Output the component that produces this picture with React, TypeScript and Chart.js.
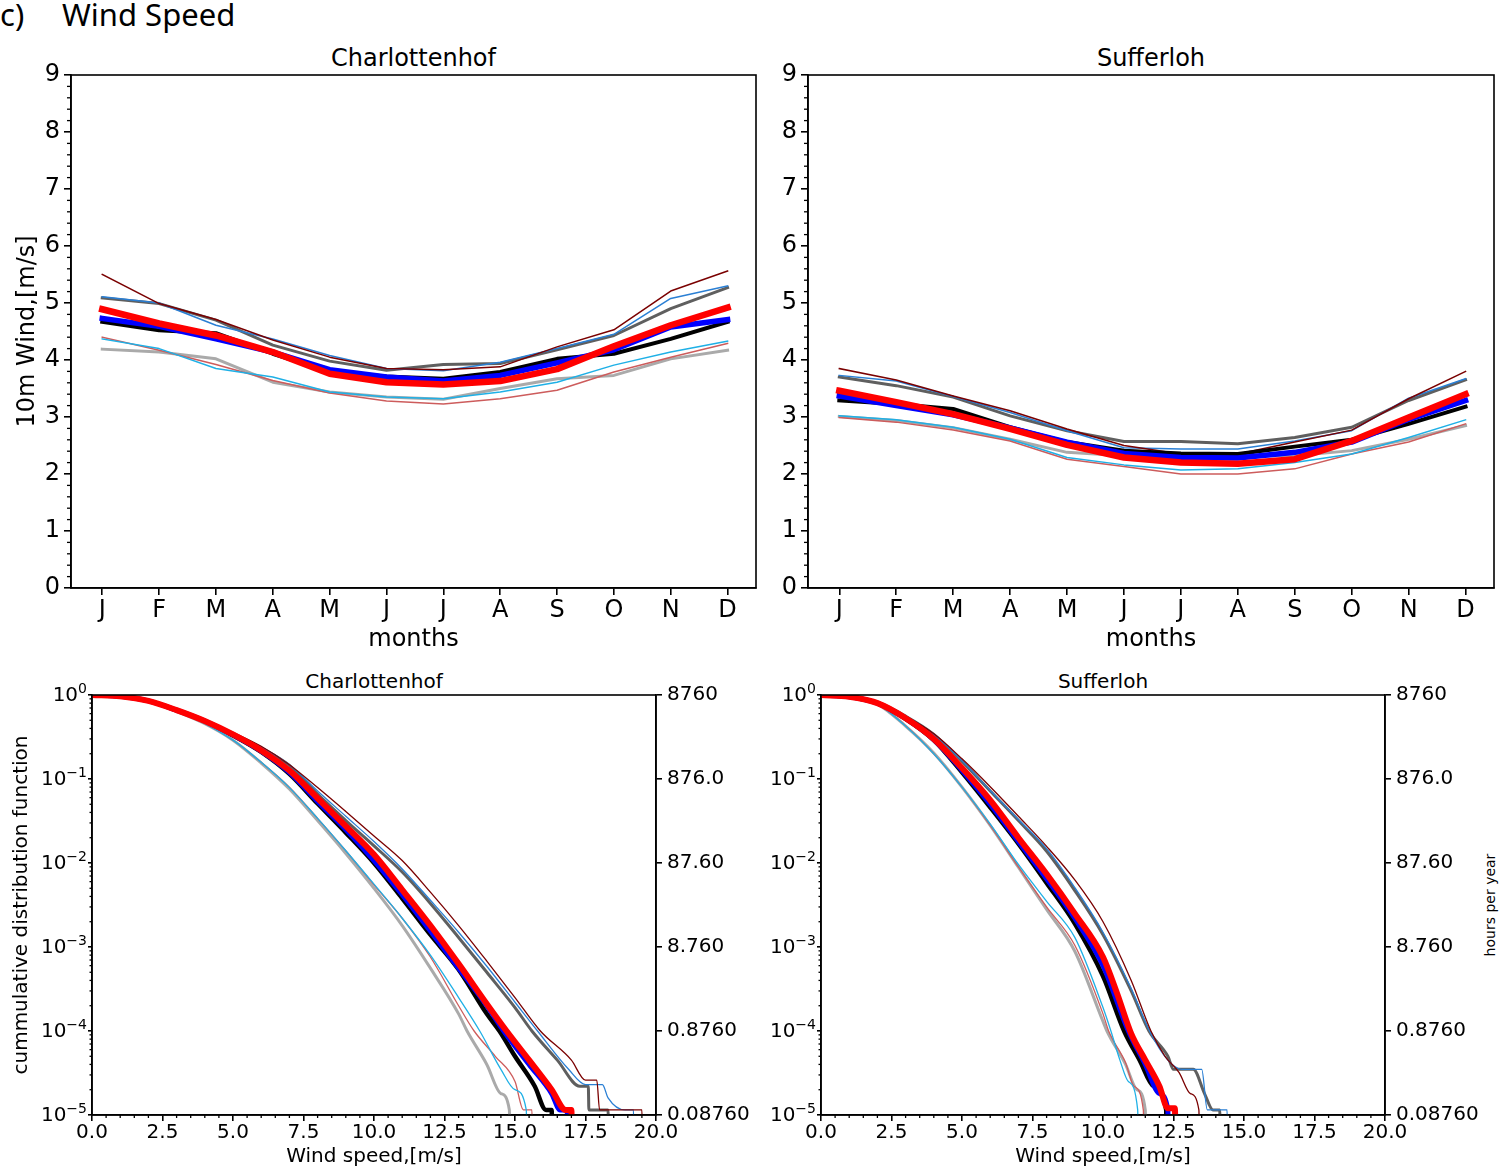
import React, { useEffect, useRef } from 'react';
import { Chart, registerables } from 'chart.js';

Chart.register(...registerables);

const FONT = "'DejaVu Sans', 'Liberation Sans', Arial, sans-serif";

// ---------- axis ticks ----------
const MONTHS = ['J', 'F', 'M', 'A', 'M', 'J', 'J', 'A', 'S', 'O', 'N', 'D'];
const WIND_TICKS = [0, 1, 2, 3, 4, 5, 6, 7, 8, 9];
const SPEED_TICKS = [0, 2.5, 5, 7.5, 10, 12.5, 15, 17.5, 20];
const CDF_TICKS = [1, 0.1, 0.01, 0.001, 0.0001, 0.00001];
const CDF_TICK_BASE = '10';
const CDF_TICK_EXP = ['0', '−1', '−2', '−3', '−4', '−5'];
const HOURS_TICKS = [8760, 876, 87.6, 8.76, 0.876, 0.0876];
const HOURS_TICK_LABELS = ['8760', '876.0', '87.60', '8.760', '0.8760', '0.08760'];

// ---------- monthly mean 10m wind, Charlottenhof ----------
const CH_M_RED = [4.89, 4.64, 4.43, 4.14, 3.76, 3.61, 3.57, 3.63, 3.84, 4.24, 4.61, 4.92];
const CH_M_BLUE = [4.73, 4.59, 4.37, 4.14, 3.83, 3.70, 3.63, 3.73, 3.95, 4.18, 4.58, 4.71];
const CH_M_BLACK = [4.67, 4.52, 4.47, 4.11, 3.79, 3.71, 3.67, 3.79, 4.02, 4.11, 4.37, 4.67];
const CH_M_DARKRED = [5.50, 4.99, 4.71, 4.35, 4.05, 3.85, 3.83, 3.88, 4.23, 4.53, 5.21, 5.56];
const CH_M_STEELBLUE = [5.11, 5.00, 4.61, 4.37, 4.08, 3.85, 3.81, 3.96, 4.20, 4.45, 5.08, 5.30];
const CH_M_SKYBLUE = [4.37, 4.20, 3.85, 3.70, 3.44, 3.35, 3.32, 3.44, 3.61, 3.91, 4.14, 4.33];
const CH_M_INDIANRED = [4.40, 4.17, 3.92, 3.64, 3.42, 3.28, 3.23, 3.32, 3.47, 3.79, 4.05, 4.29];
const CH_M_DIMGRAY = [5.09, 4.99, 4.70, 4.26, 3.98, 3.82, 3.92, 3.94, 4.18, 4.43, 4.90, 5.27];
const CH_M_DARKGRAY = [4.19, 4.14, 4.02, 3.61, 3.44, 3.35, 3.31, 3.50, 3.67, 3.73, 4.02, 4.17];

// ---------- monthly mean 10m wind, Sufferloh ----------
const SF_M_RED = [3.46, 3.26, 3.05, 2.79, 2.51, 2.29, 2.20, 2.18, 2.26, 2.58, 2.99, 3.40];
const SF_M_BLUE = [3.37, 3.20, 3.04, 2.81, 2.56, 2.36, 2.29, 2.28, 2.38, 2.56, 2.96, 3.29];
const SF_M_BLACK = [3.29, 3.23, 3.14, 2.82, 2.56, 2.41, 2.36, 2.35, 2.48, 2.60, 2.88, 3.18];
const SF_M_DARKRED = [3.85, 3.65, 3.37, 3.11, 2.79, 2.50, 2.35, 2.35, 2.56, 2.77, 3.32, 3.80];
const SF_M_STEELBLUE = [3.73, 3.63, 3.36, 3.08, 2.76, 2.46, 2.44, 2.44, 2.58, 2.76, 3.33, 3.67];
const SF_M_SKYBLUE = [3.02, 2.95, 2.82, 2.61, 2.29, 2.16, 2.07, 2.09, 2.20, 2.35, 2.64, 2.95];
const SF_M_INDIANRED = [2.99, 2.91, 2.77, 2.58, 2.26, 2.13, 2.00, 2.00, 2.09, 2.35, 2.56, 2.88];
const SF_M_DIMGRAY = [3.70, 3.55, 3.35, 3.02, 2.76, 2.57, 2.57, 2.53, 2.64, 2.82, 3.29, 3.65];
const SF_M_DARKGRAY = [3.01, 2.94, 2.81, 2.61, 2.38, 2.32, 2.29, 2.32, 2.32, 2.41, 2.61, 2.85];

// ---------- exceedance distribution, Charlottenhof (speed m/s, fraction) ----------
const CH_RED_X = [0, 1, 2, 3, 4, 5, 6, 7, 8, 9, 10, 11, 12, 13, 14, 14.7, 15.5, 16.3, 16.8, 17.0, 17.02];
const CH_RED_P = [1, 0.966, 0.851, 0.661, 0.49, 0.339, 0.219, 0.126, 0.059, 0.0275, 0.0126, 4.8e-3, 1.8e-3, 6.3e-4, 2.1e-4, 1.0e-4, 4.5e-5, 2.0e-5, 1.15e-5, 1.15e-5, 5e-6];
const CH_BLUE_X = [0, 1, 2, 3, 4, 5, 6, 7, 8, 9, 10, 11, 12, 13, 14, 14.6, 15.5, 16.3, 16.6, 16.85, 16.87];
const CH_BLUE_P = [1, 0.966, 0.851, 0.66, 0.49, 0.335, 0.215, 0.12, 0.054, 0.025, 0.0107, 4.2e-3, 1.55e-3, 5.6e-4, 2.0e-4, 1.0e-4, 4.0e-5, 1.8e-5, 1.15e-5, 1.15e-5, 5e-6];
const CH_BLACK_X = [0, 1, 2, 3, 4, 5, 6, 7, 8, 9, 10, 11, 12, 13, 14, 14.45, 15, 15.7, 16.1, 16.3, 16.32];
const CH_BLACK_P = [1, 0.966, 0.851, 0.66, 0.49, 0.33, 0.21, 0.115, 0.051, 0.023, 0.01, 3.8e-3, 1.4e-3, 5.4e-4, 1.6e-4, 1.0e-4, 5.0e-5, 2.2e-5, 1.15e-5, 1.15e-5, 5e-6];
const CH_DARKRED_X = [0, 1, 2, 3, 4, 5, 6, 7, 8, 9, 10, 11, 12, 13, 14, 15, 15.9, 17.0, 17.5, 17.9, 18.0, 19.5, 19.52];
const CH_DARKRED_P = [1, 0.97, 0.87, 0.68, 0.51, 0.36, 0.245, 0.148, 0.079, 0.041, 0.021, 0.0107, 4.5e-3, 1.8e-3, 6.8e-4, 2.5e-4, 1.0e-4, 4.5e-5, 2.6e-5, 2.6e-5, 1.15e-5, 1.15e-5, 5e-6];
const CH_STEELBLUE_X = [0, 1, 2, 3, 4, 5, 6, 7, 8, 9, 10, 11, 12, 13, 14, 15, 15.8, 16.9, 17.5, 18.1, 18.3, 18.9, 19.2, 19.22];
const CH_STEELBLUE_P = [1, 0.97, 0.865, 0.675, 0.505, 0.35, 0.24, 0.148, 0.072, 0.036, 0.018, 8.5e-3, 3.6e-3, 1.5e-3, 5.9e-4, 2.2e-4, 1.0e-4, 3.5e-5, 2.3e-5, 2.3e-5, 1.6e-5, 1.15e-5, 1.15e-5, 5e-6];
const CH_SKYBLUE_X = [0, 1, 2, 3, 4, 5, 6, 7, 8, 9, 10, 11, 12, 13, 13.75, 14.5, 15.0, 15.4, 15.42];
const CH_SKYBLUE_P = [1, 0.966, 0.84, 0.64, 0.457, 0.29, 0.158, 0.079, 0.034, 0.014, 5.6e-3, 2.2e-3, 8.0e-4, 2.5e-4, 1.0e-4, 3.5e-5, 2.0e-5, 1.15e-5, 5e-6];
const CH_INDIANRED_X = [0, 1, 2, 3, 4, 5, 6, 7, 8, 9, 10, 11, 12, 13, 13.55, 14.3, 15.0, 15.3, 15.6, 15.62];
const CH_INDIANRED_P = [1, 0.966, 0.84, 0.64, 0.46, 0.29, 0.158, 0.08, 0.034, 0.014, 5.5e-3, 2.2e-3, 7.6e-4, 2.0e-4, 1.0e-4, 5.0e-5, 2.5e-5, 1.15e-5, 1.15e-5, 5e-6];
const CH_DIMGRAY_X = [0, 1, 2, 3, 4, 5, 6, 7, 8, 9, 10, 11, 12, 13, 14, 15, 15.6, 16.5, 17.3, 17.6, 17.62, 18.3, 18.32];
const CH_DIMGRAY_P = [1, 0.97, 0.86, 0.67, 0.5, 0.345, 0.234, 0.145, 0.066, 0.032, 0.016, 7.8e-3, 3.3e-3, 1.3e-3, 5.0e-4, 1.9e-4, 1.0e-4, 4.5e-5, 2.2e-5, 2.2e-5, 1.15e-5, 1.15e-5, 5e-6];
const CH_DARKGRAY_X = [0, 1, 2, 3, 4, 5, 6, 7, 8, 9, 10, 11, 12, 13, 13.3, 14.0, 14.5, 14.8, 14.82];
const CH_DARKGRAY_P = [1, 0.966, 0.84, 0.635, 0.455, 0.29, 0.155, 0.076, 0.032, 0.013, 5.0e-3, 1.8e-3, 5.6e-4, 1.6e-4, 1.0e-4, 4.0e-5, 1.8e-5, 1.15e-5, 5e-6];

// ---------- exceedance distribution, Sufferloh ----------
const SF_RED_X = [0, 1, 2, 3, 4, 5, 6, 7, 8, 9, 10, 10.5, 11, 11.5, 12, 12.3, 12.55, 12.57];
const SF_RED_P = [1, 0.955, 0.8, 0.53, 0.3, 0.135, 0.056, 0.02, 7.4e-3, 2.5e-3, 7.6e-4, 2.8e-4, 9.3e-5, 4.5e-5, 2.2e-5, 1.2e-5, 1.2e-5, 5e-6];
const SF_BLUE_X = [0, 1, 2, 3, 4, 5, 6, 7, 8, 9, 10, 10.9, 11.5, 12.0, 12.3, 12.32];
const SF_BLUE_P = [1, 0.955, 0.8, 0.525, 0.295, 0.127, 0.05, 0.018, 6.5e-3, 2.2e-3, 6.0e-4, 1.0e-4, 4.0e-5, 1.8e-5, 1.15e-5, 5e-6];
const SF_BLACK_X = [0, 1, 2, 3, 4, 5, 6, 7, 8, 9, 10, 10.75, 11.3, 11.8, 12.24, 12.26];
const SF_BLACK_P = [1, 0.955, 0.8, 0.52, 0.29, 0.12, 0.046, 0.017, 5.8e-3, 1.9e-3, 4.5e-4, 1.0e-4, 4.5e-5, 2.2e-5, 1.15e-5, 5e-6];
const SF_DARKRED_X = [0, 1, 2, 3, 4, 5, 6, 7, 8, 9, 10, 11, 11.7, 12.2, 12.7, 13.1, 13.4, 13.42];
const SF_DARKRED_P = [1, 0.96, 0.82, 0.56, 0.345, 0.174, 0.081, 0.036, 0.0158, 6.3e-3, 2.0e-3, 4.0e-4, 1.0e-4, 5.0e-5, 3.2e-5, 1.8e-5, 1.15e-5, 5e-6];
const SF_STEELBLUE_X = [0, 1, 2, 3, 4, 5, 6, 7, 8, 9, 10, 11, 11.65, 12.3, 12.8, 13.5, 13.7, 14.4, 14.42];
const SF_STEELBLUE_P = [1, 0.96, 0.82, 0.56, 0.34, 0.165, 0.073, 0.033, 0.0148, 5.1e-3, 1.5e-3, 3.2e-4, 1.0e-4, 4.5e-5, 3.5e-5, 3.5e-5, 1.15e-5, 1.15e-5, 5e-6];
const SF_SKYBLUE_X = [0, 1, 2, 3, 4, 5, 6, 7, 8, 9, 10, 10.28, 10.6, 10.9, 11.23, 11.25];
const SF_SKYBLUE_P = [1, 0.95, 0.78, 0.427, 0.2, 0.08, 0.029, 9.6e-3, 3.5e-3, 1.3e-3, 1.9e-4, 1.0e-4, 4.5e-5, 2.5e-5, 1.15e-5, 5e-6];
const SF_INDIANRED_X = [0, 1, 2, 3, 4, 5, 6, 7, 8, 9, 10, 10.2, 10.8, 11.1, 11.43, 11.45];
const SF_INDIANRED_P = [1, 0.95, 0.78, 0.43, 0.2, 0.08, 0.028, 9.0e-3, 3.0e-3, 1.05e-3, 1.6e-4, 1.0e-4, 4.2e-5, 2.2e-5, 1.15e-5, 5e-6];
const SF_DIMGRAY_X = [0, 1, 2, 3, 4, 5, 6, 7, 8, 9, 10, 11, 11.63, 12.3, 12.5, 13.2, 13.6, 13.9, 14.14, 14.16];
const SF_DIMGRAY_P = [1, 0.96, 0.82, 0.56, 0.34, 0.162, 0.072, 0.032, 0.0138, 4.7e-3, 1.4e-3, 3.0e-4, 1.0e-4, 5.0e-5, 3.5e-5, 3.5e-5, 1.8e-5, 1.15e-5, 1.15e-5, 5e-6];
const SF_DARKGRAY_X = [0, 1, 2, 3, 4, 5, 6, 7, 8, 9, 10, 10.14, 10.8, 11.2, 11.5, 11.52];
const SF_DARKGRAY_P = [1, 0.95, 0.78, 0.427, 0.204, 0.08, 0.028, 8.9e-3, 2.8e-3, 8.9e-4, 1.3e-4, 1.0e-4, 4.0e-5, 2.0e-5, 1.15e-5, 5e-6];

// ---------- styles (drawing order: first = on top) ----------
const STYLE: any = {
  red: { color: '#ff0000', top: 6.5, bottom: 6 },
  blue: { color: '#0000ff', top: 5.5, bottom: 5 },
  black: { color: '#000000', top: 4, bottom: 4.5 },
  darkred: { color: '#7a0000', top: 1.5, bottom: 1.3 },
  steelblue: { color: '#2a7fd4', top: 1.5, bottom: 1.3 },
  skyblue: { color: '#1fb0e6', top: 1.5, bottom: 1.3 },
  indianred: { color: '#cd5c5c', top: 1.5, bottom: 1.3 },
  dimgray: { color: '#5f5f5f', top: 3, bottom: 3 },
  darkgray: { color: '#aaaaaa', top: 3, bottom: 3 },
};

const CH_MONTHLY = [
  ['red', CH_M_RED], ['blue', CH_M_BLUE], ['black', CH_M_BLACK], ['darkred', CH_M_DARKRED],
  ['steelblue', CH_M_STEELBLUE], ['skyblue', CH_M_SKYBLUE], ['indianred', CH_M_INDIANRED],
  ['dimgray', CH_M_DIMGRAY], ['darkgray', CH_M_DARKGRAY],
];
const SF_MONTHLY = [
  ['red', SF_M_RED], ['blue', SF_M_BLUE], ['black', SF_M_BLACK], ['darkred', SF_M_DARKRED],
  ['steelblue', SF_M_STEELBLUE], ['skyblue', SF_M_SKYBLUE], ['indianred', SF_M_INDIANRED],
  ['dimgray', SF_M_DIMGRAY], ['darkgray', SF_M_DARKGRAY],
];
const CH_CDF = [
  ['red', CH_RED_X, CH_RED_P], ['blue', CH_BLUE_X, CH_BLUE_P], ['black', CH_BLACK_X, CH_BLACK_P],
  ['darkred', CH_DARKRED_X, CH_DARKRED_P], ['steelblue', CH_STEELBLUE_X, CH_STEELBLUE_P],
  ['skyblue', CH_SKYBLUE_X, CH_SKYBLUE_P], ['indianred', CH_INDIANRED_X, CH_INDIANRED_P],
  ['dimgray', CH_DIMGRAY_X, CH_DIMGRAY_P], ['darkgray', CH_DARKGRAY_X, CH_DARKGRAY_P],
];
const SF_CDF = [
  ['red', SF_RED_X, SF_RED_P], ['blue', SF_BLUE_X, SF_BLUE_P], ['black', SF_BLACK_X, SF_BLACK_P],
  ['darkred', SF_DARKRED_X, SF_DARKRED_P], ['steelblue', SF_STEELBLUE_X, SF_STEELBLUE_P],
  ['skyblue', SF_SKYBLUE_X, SF_SKYBLUE_P], ['indianred', SF_INDIANRED_X, SF_INDIANRED_P],
  ['dimgray', SF_DIMGRAY_X, SF_DIMGRAY_P], ['darkgray', SF_DARKGRAY_X, SF_DARKGRAY_P],
];

// ---------- helpers ----------
function minorLinear(min: number, max: number, step: number, major: number) {
  const out: number[] = [];
  const n = Math.round((max - min) / step);
  for (let i = 1; i < n; i++) {
    const v = min + i * step;
    const r = v / major;
    if (Math.abs(r - Math.round(r)) > 1e-6) out.push(v);
  }
  return out;
}
function minorLog(e0: number, e1: number) {
  const out: number[] = [];
  for (let e = e0; e < e1; e++) for (let k = 2; k <= 9; k++) out.push(k * Math.pow(10, e));
  return out;
}
function labelFor(ticks: number[], labels: string[], v: number) {
  const i = ticks.findIndex((t) => Math.abs(t - v) / t < 1e-6);
  return i >= 0 ? labels[i] : '';
}

function framePlugin(minor: any[], powerLabels?: boolean) {
  return {
    id: 'frame',
    afterDraw(chart: any) {
      const { ctx, chartArea: a } = chart;
      ctx.save();
      ctx.strokeStyle = '#000';
      ctx.lineWidth = 1.3;
      minor.forEach((m) => {
        const s = chart.scales[m.id];
        m.values.forEach((v: number) => {
          const p = s.getPixelForValue(v);
          ctx.beginPath();
          if (m.side === 'left') {
            ctx.moveTo(a.left, p);
            ctx.lineTo(a.left - m.len, p);
          } else {
            ctx.moveTo(p, a.bottom);
            ctx.lineTo(p, a.bottom + m.len);
          }
          ctx.stroke();
        });
      });
      ctx.lineWidth = 1.6;
      ctx.strokeRect(a.left, a.top, a.right - a.left, a.bottom - a.top);
      if (powerLabels) {
        const s = chart.scales.y;
        ctx.fillStyle = '#000';
        ctx.textAlign = 'left';
        ctx.textBaseline = 'middle';
        CDF_TICKS.forEach((t, i) => {
          const y = s.getPixelForValue(t);
          const exp = CDF_TICK_EXP[i];
          ctx.font = `14px ${FONT}`;
          const we = ctx.measureText(exp).width;
          ctx.font = `20px ${FONT}`;
          const wb = ctx.measureText(CDF_TICK_BASE).width;
          const right = a.left - 5;
          ctx.fillText(CDF_TICK_BASE, right - we - wb, y + 1);
          ctx.font = `14px ${FONT}`;
          ctx.fillText(exp, right - we, y - 6);
        });
      }
      ctx.restore();
    },
  };
}

const grid = (len: number) => ({
  display: true,
  drawOnChartArea: false,
  drawTicks: true,
  tickLength: len,
  tickWidth: 1.6,
  tickColor: '#000',
  color: '#000',
  lineWidth: 1.6,
});
const border = { display: true, color: '#000', width: 1.6 };

function monthlyConfig(series: any[], o: any) {
  return {
    type: 'line',
    data: {
      datasets: series.map(([key, vals]: any) => ({
        data: vals.map((v: number, i: number) => ({ x: i, y: v })),
        borderColor: STYLE[key].color,
        borderWidth: STYLE[key].top,
        pointRadius: 0,
        fill: false,
        tension: 0,
        borderJoinStyle: 'round',
        borderCapStyle: 'square',
      })),
    },
    options: {
      animation: false,
      responsive: false,
      devicePixelRatio: 1,
      events: [],
      layout: { padding: { top: o.padTop, right: o.padRight, left: 0, bottom: 0 } },
      plugins: { legend: { display: false }, tooltip: { enabled: false }, title: { display: false } },
      scales: {
        x: {
          type: 'linear',
          min: -0.55,
          max: 11.5,
          afterBuildTicks: (s: any) => {
            s.ticks = MONTHS.map((_, i) => ({ value: i }));
          },
          afterFit: (s: any) => {
            s.height = o.xHeight;
          },
          ticks: {
            autoSkip: false,
            maxRotation: 0,
            padding: 1,
            color: '#000',
            font: { family: FONT, size: 24 },
            callback: (v: number) => MONTHS[v],
          },
          grid: grid(7),
          border,
          title: {
            display: true,
            text: 'months',
            color: '#000',
            font: { family: FONT, size: 24 },
            padding: { top: 0, bottom: 11 },
          },
        },
        y: {
          type: 'linear',
          min: 0,
          max: 9,
          afterBuildTicks: (s: any) => {
            s.ticks = WIND_TICKS.map((v) => ({ value: v }));
          },
          afterFit: (s: any) => {
            s.width = o.yWidth;
          },
          ticks: {
            autoSkip: false,
            padding: 4,
            color: '#000',
            font: { family: FONT, size: 24 },
            callback: (v: number) => String(v),
          },
          grid: grid(7),
          border,
          title: {
            display: !!o.yTitle,
            text: o.yTitle || '',
            color: '#000',
            font: { family: FONT, size: 24 },
            padding: { top: 13, bottom: 0 },
          },
        },
      },
    },
    plugins: [framePlugin([{ id: 'y', side: 'left', len: 4, values: minorLinear(0, 9, 0.2, 1) }])],
  };
}

function cdfConfig(series: any[], o: any) {
  return {
    type: 'line',
    data: {
      datasets: series.map(([key, xs, ps]: any) => ({
        data: xs.map((x: number, i: number) => ({ x, y: ps[i] })),
        borderColor: STYLE[key].color,
        borderWidth: STYLE[key].bottom,
        pointRadius: 0,
        fill: false,
        cubicInterpolationMode: 'monotone',
        borderJoinStyle: 'round',
        borderCapStyle: 'butt',
      })),
    },
    options: {
      animation: false,
      responsive: false,
      devicePixelRatio: 1,
      events: [],
      layout: { padding: { top: o.padTop, right: 0, left: 0, bottom: 0 } },
      plugins: { legend: { display: false }, tooltip: { enabled: false }, title: { display: false } },
      scales: {
        x: {
          type: 'linear',
          min: 0,
          max: 20,
          afterBuildTicks: (s: any) => {
            s.ticks = SPEED_TICKS.map((v) => ({ value: v }));
          },
          afterFit: (s: any) => {
            s.height = o.xHeight;
          },
          ticks: {
            autoSkip: false,
            maxRotation: 0,
            padding: 0,
            color: '#000',
            font: { family: FONT, size: 20 },
            callback: (v: number) => Number(v).toFixed(1),
          },
          grid: grid(6),
          border,
          title: {
            display: true,
            text: 'Wind speed,[m/s]',
            color: '#000',
            font: { family: FONT, size: 20 },
            padding: { top: 0, bottom: 1 },
          },
        },
        y: {
          type: 'logarithmic',
          min: 1e-5,
          max: 1,
          afterBuildTicks: (s: any) => {
            s.ticks = CDF_TICKS.slice().reverse().map((v) => ({ value: v }));
          },
          afterFit: (s: any) => {
            s.width = o.yWidth;
          },
          ticks: {
            autoSkip: false,
            padding: 1,
            color: '#000',
            font: { family: FONT, size: 20 },
            callback: () => '',
          },
          grid: grid(4),
          border,
          title: {
            display: !!o.yTitle,
            text: o.yTitle || '',
            color: '#000',
            font: { family: FONT, size: 20 },
            padding: { top: 10, bottom: 0 },
          },
        },
        y2: {
          type: 'logarithmic',
          position: 'right',
          min: 0.0876,
          max: 8760,
          afterBuildTicks: (s: any) => {
            s.ticks = HOURS_TICKS.slice().reverse().map((v) => ({ value: v }));
          },
          afterFit: (s: any) => {
            s.width = o.y2Width;
          },
          ticks: {
            autoSkip: false,
            padding: 5,
            color: '#000',
            font: { family: FONT, size: 20 },
            callback: (v: number) => labelFor(HOURS_TICKS, HOURS_TICK_LABELS, v),
          },
          grid: grid(6),
          border,
        },
      },
    },
    plugins: [
      framePlugin(
        [
          { id: 'x', side: 'bottom', len: 3, values: minorLinear(0, 20, 0.5, 2.5) },
          { id: 'y', side: 'left', len: 2.5, values: minorLog(-5, 0) },
        ],
        true,
      ),
    ],
  };
}

function ChartCanvas({ make, left, top, width, height }: any) {
  const ref = useRef<HTMLCanvasElement | null>(null);
  useEffect(() => {
    const chart = new Chart(ref.current as HTMLCanvasElement, make());
    return () => chart.destroy();
  }, []);
  return (
    <canvas
      ref={ref}
      width={width}
      height={height}
      style={{ position: 'absolute', left, top, width, height }}
    />
  );
}

const textBase: any = { position: 'absolute', whiteSpace: 'nowrap', color: '#000', fontFamily: FONT };

export default function App() {
  return (
    <div style={{ position: 'absolute', left: 0, top: 0, width: 1499, height: 1170, background: '#fff', overflow: 'hidden' }}>
      <div style={{ ...textBase, left: 0, top: -1, fontFamily: "'Noto Sans', 'Open Sans', sans-serif", fontSize: 31, lineHeight: '31px' }}>c)</div>
      <div style={{ ...textBase, left: 62, top: -1, fontFamily: "'Noto Sans', 'Open Sans', sans-serif", fontSize: 31, lineHeight: '31px' }}>Wind Speed</div>

      <div style={{ ...textBase, left: 71, width: 685, top: 45.7, textAlign: 'center', fontSize: 24, lineHeight: '24px' }}>Charlottenhof</div>
      <div style={{ ...textBase, left: 808, width: 686, top: 45.7, textAlign: 'center', fontSize: 24, lineHeight: '24px' }}>Sufferloh</div>
      <div style={{ ...textBase, left: 92, width: 564, top: 670.6, textAlign: 'center', fontSize: 20, lineHeight: '20px' }}>Charlottenhof</div>
      <div style={{ ...textBase, left: 821, width: 564, top: 670.6, textAlign: 'center', fontSize: 20, lineHeight: '20px' }}>Sufferloh</div>
      <div style={{ ...textBase, left: 1490, top: 905, fontSize: 14, lineHeight: '14px', color: '#000', transform: 'translate(-50%, -50%) rotate(-90deg)' }}>hours per year</div>

      <ChartCanvas
        left={0} top={0} width={770} height={665}
        make={() => monthlyConfig(CH_MONTHLY, { padTop: 75, padRight: 14, yWidth: 71, xHeight: 77, yTitle: '10m Wind,[m/s]' })}
      />
      <ChartCanvas
        left={770} top={0} width={729} height={665}
        make={() => monthlyConfig(SF_MONTHLY, { padTop: 75, padRight: 5, yWidth: 38, xHeight: 77 })}
      />
      <ChartCanvas
        left={0} top={665} width={755} height={505}
        make={() => cdfConfig(CH_CDF, { padTop: 30, yWidth: 92, y2Width: 99, xHeight: 55, yTitle: 'cummulative distribution function' })}
      />
      <ChartCanvas
        left={755} top={665} width={744} height={505}
        make={() => cdfConfig(SF_CDF, { padTop: 30, yWidth: 66, y2Width: 114, xHeight: 55 })}
      />
    </div>
  );
}
